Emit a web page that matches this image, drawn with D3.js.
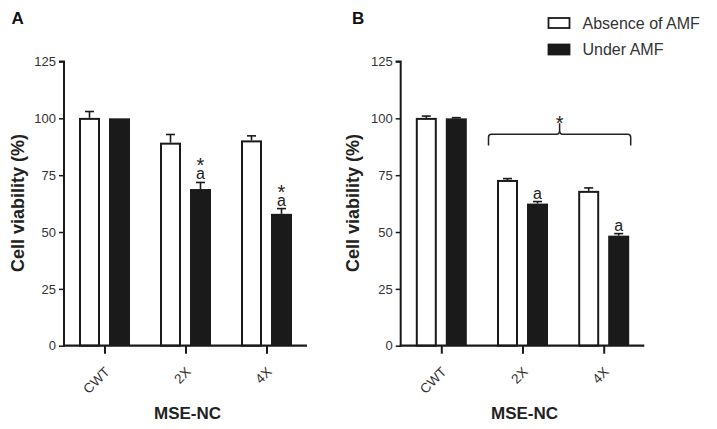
<!DOCTYPE html>
<html><head><meta charset="utf-8">
<script src="https://cdn.jsdelivr.net/npm/d3@7"></script>
<style>body{margin:0;background:#fff}svg{display:block;font-family:"Liberation Sans",Arial,sans-serif}</style>
</head><body><svg id="c" width="717" height="429"></svg>
<script>
const categories = ["CWT", "2X", "4X"];
const seriesNames = ["Absence of AMF", "Under AMF"];
const yTicks = [0, 25, 50, 75, 100, 125];
// Panel A
const aAbsence = [100.2, 89.3, 90.3];
const aAbsenceErr = [2.8, 3.6, 2.0];
const aUnder = [100, 68.9, 58.0];
const aUnderErr = [0, 2.9, 2.3];
const aMarks = [["", ""], ["", "a*"], ["", "a*"]];
// Panel B
const bAbsence = [100.2, 72.9, 68.1];
const bAbsenceErr = [0.8, 0.6, 1.3];
const bUnder = [100, 62.5, 48.4];
const bUnderErr = [0.3, 0.9, 0.9];
const bMarks = [["", ""], ["", "a"], ["", "a"]];

const svg = d3.select("#c");
const y = d3.scaleLinear().domain([0, 125]).range([345.7, 61.5]);

function panel(x0, x1, label, absence, absErr, under, undErr, marks, titleX) {
  const g = svg.append("g");
  const x = d3.scalePoint().domain(categories).range([x0, x1]).padding(0.5);
  const bw = 21;
  const data = [absence, under];
  const errs = [absErr, undErr];
  [0, 1].forEach(s => {
    categories.forEach((c, i) => {
      const bx = s === 0 ? x(c) - 25.5 : x(c) + 4.5;
      const top = y(data[s][i]);
      const et = y(data[s][i] + errs[s][i]);
      if (errs[s][i] > 0) {
        g.append("line").attr("x1", bx + bw / 2).attr("x2", bx + bw / 2)
          .attr("y1", top).attr("y2", et).attr("stroke", "#1a1a1a").attr("stroke-width", 1.6);
        g.append("line").attr("x1", bx + bw / 2 - 4.5).attr("x2", bx + bw / 2 + 4.5)
          .attr("y1", et).attr("y2", et).attr("stroke", "#1a1a1a").attr("stroke-width", 1.6);
      }
      g.append("rect").attr("x", s === 0 ? bx + 1 : bx).attr("y", s === 0 ? top + 1 : top)
        .attr("width", s === 0 ? bw - 2 : bw).attr("height", y(0) - top - (s === 0 ? 1 : 0))
        .attr("fill", s === 0 ? "#fff" : "#1a1a1a")
        .attr("stroke", s === 0 ? "#1a1a1a" : "none").attr("stroke-width", 2);
      const m = marks[i][s];
      if (m) {
        const cx = bx + bw / 2;
        const t = g.append("text").attr("text-anchor", "middle").attr("fill", "#222");
        if (m.includes("*")) {
          t.append("tspan").attr("x", cx).attr("y", et - 10).attr("font-size", 20).text("*");
        }
        t.append("tspan").attr("x", cx).attr("y", et - 3).attr("font-size", 16).text("a");
      }
    });
  });
  const ya = g.append("g").attr("transform", `translate(${x0},0)`)
    .call(d3.axisLeft(y).tickValues(yTicks).tickSize(5).tickPadding(3));
  ya.select(".domain").attr("stroke", "#1a1a1a").attr("stroke-width", 2).attr("d", `M-5,${y(125)}H0V${y(0) + 1}`);
  ya.selectAll(".tick line").attr("stroke", "#1a1a1a").attr("stroke-width", 1.5);
  ya.selectAll(".tick text").attr("font-size", 13).attr("fill", "#333").attr("font-family", "Liberation Sans, Arial");
  const xa = g.append("g").attr("transform", `translate(0,${y(0)})`)
    .call(d3.axisBottom(x).tickSize(8).tickFormat(""));
  xa.select(".domain").attr("stroke", "#1a1a1a").attr("stroke-width", 2.2).attr("d", `M${x0 - 1},0H${x1}`);
  xa.selectAll(".tick line").attr("stroke", "#1a1a1a").attr("stroke-width", 2);
  categories.forEach(c => {
    g.append("text").attr("transform", `translate(${x(c) + 6},${y(0) + 27}) rotate(-45)`)
      .attr("text-anchor", "end").attr("font-size", 13.5).attr("fill", "#333").text(c);
  });
  g.append("text").attr("x", (x0 + x1) / 2 + 2).attr("y", 419).attr("text-anchor", "middle")
    .attr("font-size", 17).attr("font-weight", "bold").attr("fill", "#222").text("MSE-NC");
  g.append("text").attr("transform", `translate(${titleX},${203}) rotate(-90)`)
    .attr("text-anchor", "middle").attr("font-size", 18).attr("font-weight", "bold").attr("fill", "#222")
    .text("Cell viability (%)");
  g.append("text").attr("x", label.x).attr("y", 24).attr("font-size", 17).attr("font-weight", "bold")
    .attr("fill", "#111").text(label.t);
  return x;
}

panel(64, 307, {t: "A", x: 11.5}, aAbsence, aAbsenceErr, aUnder, aUnderErr, aMarks, 24);
const xb = panel(400.7, 644.3, {t: "B", x: 352}, bAbsence, bAbsenceErr, bUnder, bUnderErr, bMarks, 359);

// brace over 2X and 4X in panel B
const bl = xb("2X") - 34, br = xb("4X") + 27, bm = (bl + br) / 2, bt = 134.3;
svg.append("path").attr("fill", "none").attr("stroke", "#222").attr("stroke-width", 1.5)
  .attr("d", `M${bl},145.5 V${bt + 3} Q${bl},${bt} ${bl + 3},${bt} H${bm - 3} Q${bm},${bt} ${bm},${bt - 4} V${bt - 11} M${bm},${bt - 4} Q${bm},${bt} ${bm + 3},${bt} H${br - 3} Q${br},${bt} ${br},${bt + 3} V145.5`);
svg.append("text").attr("x", bm).attr("y", 130).attr("text-anchor", "middle")
  .attr("font-size", 20).attr("fill", "#222").text("*");

// legend
const leg = svg.append("g");
seriesNames.forEach((n, i) => {
  leg.append("rect").attr("x", 548.5).attr("y", 18 + i * 26.5).attr("width", 21).attr("height", 10)
    .attr("fill", i === 0 ? "#fff" : "#1a1a1a").attr("stroke", "#1a1a1a").attr("stroke-width", 1.8);
  leg.append("text").attr("x", 582.5).attr("y", 28.5 + i * 26.5).attr("font-size", 16).attr("fill", "#333").text(n);
});
</script></body></html>
